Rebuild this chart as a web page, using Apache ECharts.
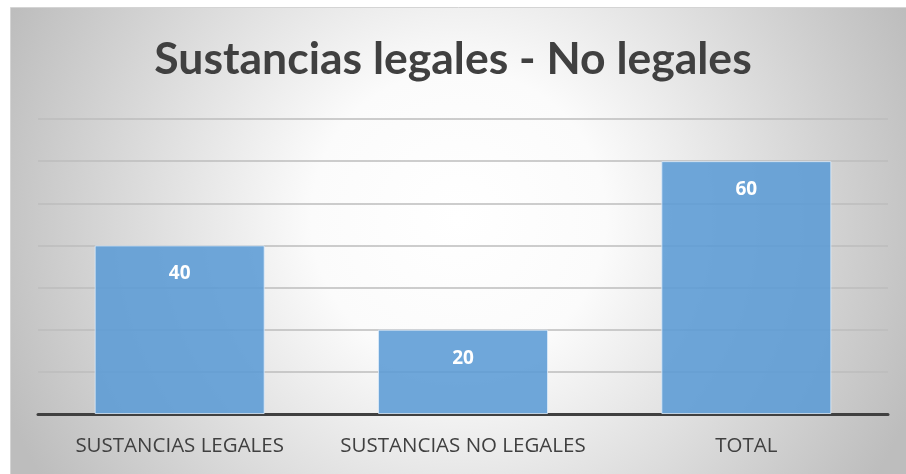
<!DOCTYPE html>
<html>
<head>
<meta charset="utf-8">
<script src="https://cdn.jsdelivr.net/npm/echarts@6/dist/echarts.min.js"></script>
<style>
html,body{margin:0;padding:0;background:#fff;}
#c{width:906px;height:474px;}
</style>
</head>
<body>
<div id="c"></div>
<script>
const categories = ['SUSTANCIAS LEGALES', 'SUSTANCIAS NO LEGALES', 'TOTAL'];
const values = [40, 20, 60];
const titleText = 'Sustancias legales - No legales';

const chart = echarts.init(document.getElementById('c'));
chart.setOption({
  backgroundColor: '#ffffff',
  animation: false,
  graphic: [{
    type: 'rect',
    left: 10, top: 7, z: -10,
    shape: {width: 896, height: 467},
    style: {
      fill: new echarts.graphic.RadialGradient(0.5, 0.45, 1.05, [
        {offset: 0, color: '#ffffff'},
        {offset: 0.3, color: '#fbfbfb'},
        {offset: 1, color: '#bdbdbd'}
      ]),
      stroke: '#d4d4d4', lineWidth: 1
    },
    silent: true
  }],
  title: {
    text: titleText,
    left: 'center',
    top: 32,
    padding: [5, 5, 5, 56],
    textStyle: {fontFamily: 'Lato', fontWeight: 'bold', fontSize: 44.5, color: '#404040'}
  },
  grid: {left: 38, right: 18, top: 119, bottom: 60, containLabel: false},
  xAxis: {
    type: 'category',
    data: categories,
    axisLine: {lineStyle: {color: '#404040', width: 3}},
    axisTick: {show: false},
    axisLabel: {interval: 0, hideOverlap: false, fontFamily: 'Open Sans', fontSize: 20.5, color: '#404040', margin: 22}
  },
  yAxis: {
    type: 'value',
    min: 0, max: 70, interval: 10,
    axisLabel: {show: false},
    axisLine: {show: false},
    axisTick: {show: false},
    splitLine: {lineStyle: {color: '#bdbdbd', width: 1.5}}
  },
  series: [{
    type: 'bar',
    data: values,
    barWidth: '60%',
    itemStyle: {color: 'rgba(91,155,213,0.88)', borderColor: 'rgba(220,235,250,0.8)', borderWidth: 1},
    label: {
      show: true, position: 'insideTop', distance: 19,
      fontFamily: 'Open Sans', fontWeight: 'bold', fontSize: 19, color: '#ffffff'
    }
  }]
});
</script>
</body>
</html>
